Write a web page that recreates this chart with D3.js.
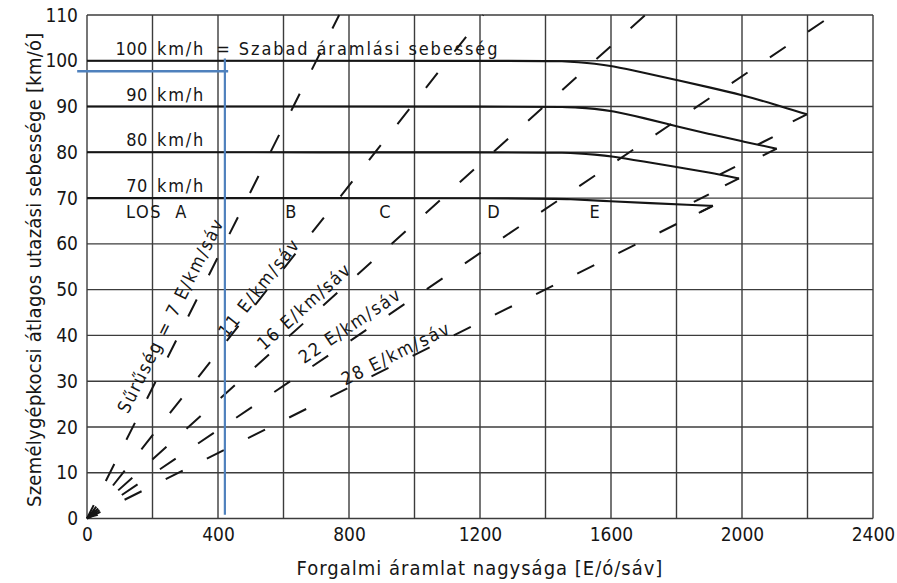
<!DOCTYPE html>
<html><head><meta charset="utf-8">
<script src="https://cdn.jsdelivr.net/npm/d3@7"></script>
<style>
html,body{margin:0;padding:0;background:#fff;}
svg{display:block;}
text{font-family:"DejaVu Sans Condensed","DejaVu Sans",sans-serif;fill:#161616;}
</style></head><body>
<svg id="chart" width="897" height="583"></svg>
<script>
// ---------------- data ----------------
const xTickValues = [0, 400, 800, 1200, 1600, 2000, 2400];
const yTickValues = [0, 10, 20, 30, 40, 50, 60, 70, 80, 90, 100, 110];
const xGridValues = [0, 200, 400, 600, 800, 1000, 1200, 1400, 1600, 1800, 2000, 2200, 2400];

const freeFlowSpeeds = [100, 90, 80, 70];
const curve100 = [[0, 100], [1400, 100], [1450, 99.9], [1500, 99.7], [1550, 99.4], [1600, 98.9], [1700, 97.4], [1800, 95.8], [1900, 94.2], [2000, 92.5], [2100, 90.5], [2198, 88.3]];
const curve90  = [[0, 90], [1400, 90], [1450, 89.9], [1500, 89.8], [1550, 89.5], [1600, 89.1], [1700, 87.5], [1800, 85.7], [1900, 84.0], [2000, 82.4], [2106, 80.8]];
const curve80  = [[0, 80], [1400, 80], [1450, 79.9], [1500, 79.75], [1550, 79.5], [1600, 79.2], [1700, 78.0], [1800, 76.8], [1900, 75.6], [1991, 74.3]];
const curve70  = [[0, 70], [1400, 70], [1466, 69.8], [1600, 69.3], [1720, 68.9], [1840, 68.5], [1911, 68.3]];
const upperHook = [false, true, true, true];

const densityLabelValues = ["7", "11", "16", "22", "28"];
const densityLineEndFlow  = [770, 1210, 1705, 2277, 1911];
const densityLineEndSpeed = [110, 110, 110, 110, 68.3];
const densityLabelFlow  = [255, 525, 663, 803, 943];
const densityLabelSpeed = [44.4, 50.5, 46.4, 42.2, 36.1];

const losLetters = ["A", "B", "C", "D", "E"];
const losFlow = [308, 622, 910, 1241, 1550];
const losSpeed = 65.6;

const blueHSpeed = 97.7, blueHFrom = -30, blueHTo = 431;
const blueVFlow = 421, blueVFrom = 0.8, blueVTo = 100.5;

const xTitle = "Forgalmi áramlat nagysága [E/ó/sáv]";
const yTitle = "Személygépkocsi átlagos utazási sebessége [km/ó]";

// ---------------- layout ----------------
const svg = d3.select("#chart");
const x = d3.scaleLinear().domain([0, 2400]).range([87, 873]);
const y = d3.scaleLinear().domain([0, 110]).range([518.5, 15]);
const ink = "#151515";
const fontFam = '"DejaVu Sans Condensed","DejaVu Sans",sans-serif';

// grid
const grid = svg.append("g");
grid.selectAll("line.v").data(xGridValues).join("line")
  .attr("x1", d => x(d)).attr("x2", d => x(d)).attr("y1", y(0)).attr("y2", y(110))
  .attr("stroke", "#3c3c3c").attr("stroke-width", 1.4);
grid.selectAll("line.h").data(yTickValues).join("line")
  .attr("y1", d => y(d)).attr("y2", d => y(d)).attr("x1", x(0)).attr("x2", x(2400))
  .attr("stroke", "#3c3c3c").attr("stroke-width", 1.4);

// axes labels (ticks)
const yAxis = d3.axisLeft(y).tickValues(yTickValues).tickSize(0).tickPadding(9).tickFormat(d3.format("d"));
const gy = svg.append("g").attr("transform", `translate(${x(0)},0)`).call(yAxis);
gy.select(".domain").remove();
gy.selectAll("text").attr("font-size", 19).attr("fill", ink).style("font-family", fontFam);

const xAxis = d3.axisBottom(x).tickValues(xTickValues).tickSize(0).tickPadding(9).tickFormat(d3.format("d"));
const gx = svg.append("g").attr("transform", `translate(0,${y(0)})`).call(xAxis);
gx.select(".domain").remove();
gx.selectAll("text").attr("font-size", 19).attr("fill", ink).style("font-family", fontFam);

// density lines
const lineGen = d3.line().x(d => x(d[0])).y(d => y(d[1]));
densityLineEndFlow.forEach((f, i) => {
  svg.append("path")
    .attr("d", lineGen([[0, 0], [f, densityLineEndSpeed[i]]]))
    .attr("fill", "none").attr("stroke", ink).attr("stroke-width", 2)
    .attr("stroke-dasharray", "19,27").attr("stroke-dashoffset", 4);
});
// arrow head at origin
{
  const ang = Math.atan2(20, 32);
  const L = 11, w = 3.6;
  const ox = x(0), oy = y(0);
  const bx = ox + L * Math.cos(ang), by = oy - L * Math.sin(ang);
  const px = Math.sin(ang) * w, py = Math.cos(ang) * w;
  svg.append("path")
    .attr("d", `M${ox},${oy}L${bx + px},${by + py}L${bx - px},${by - py}Z`)
    .attr("fill", ink);
}

// speed-flow curves
const curveGen = d3.line().x(d => x(d[0])).y(d => y(d[1])).curve(d3.curveBasis);
[curve100, curve90, curve80, curve70].forEach((c, i) => {
  svg.append("path").attr("d", curveGen(c))
    .attr("fill", "none").attr("stroke", ink).attr("stroke-width", 2.1);
  const e = c[c.length - 1];
  const ex = x(e[0]), ey = y(e[1]);
  svg.append("line").attr("x1", ex).attr("y1", ey).attr("x2", ex - 14).attr("y2", ey + 7)
    .attr("stroke", ink).attr("stroke-width", 2.1);
  if (upperHook[i]) {
    svg.append("line").attr("x1", ex - 19).attr("y1", ey - 4).attr("x2", ex - 4).attr("y2", ey - 11.5)
      .attr("stroke", ink).attr("stroke-width", 2.1);
  }
});

// speed labels
const labelFont = 18;
freeFlowSpeeds.forEach((s, i) => {
  svg.append("text").attr("x", x(186)).attr("y", y(s + 1.3))
    .attr("text-anchor", "end").attr("font-size", labelFont).attr("letter-spacing", 0.5)
    .text(s);
  svg.append("text").attr("x", x(214)).attr("y", y(s + 1.3))
    .attr("font-size", labelFont).attr("letter-spacing", 1.8)
    .text("km/h");
});
svg.append("text").attr("x", x(395)).attr("y", y(freeFlowSpeeds[0] + 1.3))
  .attr("font-size", labelFont).attr("letter-spacing", 1.9)
  .text("= Szabad áramlási sebesség");

// LOS labels
losLetters.forEach((l, i) => {
  svg.append("text").attr("x", x(losFlow[i])).attr("y", y(losSpeed))
    .attr("text-anchor", i === 0 ? "end" : "middle")
    .attr("font-size", labelFont).attr("letter-spacing", i === 0 ? 1.5 : 0)
    .attr("xml:space", "preserve")
    .text(i === 0 ? "LOS  " + l : l);
});

// density labels
densityLabelValues.forEach((v, i) => {
  const ang = Math.atan2(y(0) - y(densityLineEndSpeed[i]), x(densityLineEndFlow[i]) - x(0)) * 180 / Math.PI;
  const cx = x(densityLabelFlow[i]), cy = y(densityLabelSpeed[i]);
  svg.append("text")
    .attr("transform", `translate(${cx},${cy}) rotate(${-ang})`)
    .attr("text-anchor", "middle").attr("dy", "0.36em")
    .attr("font-size", labelFont).attr("letter-spacing", 1.8)
    .text((i === 0 ? "Sűrűség = " : "") + v + " E/km/sáv");
});

// axis titles
svg.append("text").attr("x", (x(0) + x(2400)) / 2).attr("y", 575)
  .attr("text-anchor", "middle").attr("font-size", 20).attr("letter-spacing", 1)
  .text(xTitle);
svg.append("text")
  .attr("transform", `translate(41,${(y(0) + y(110)) / 2 + 3}) rotate(-90)`)
  .attr("text-anchor", "middle").attr("font-size", 20).attr("letter-spacing", 0.25)
  .text(yTitle);

// blue marker lines
svg.append("line").attr("x1", x(blueHFrom)).attr("x2", x(blueHTo))
  .attr("y1", y(blueHSpeed)).attr("y2", y(blueHSpeed))
  .attr("stroke", "#4f81bd").attr("stroke-width", 2.6);
svg.append("line").attr("x1", x(blueVFlow)).attr("x2", x(blueVFlow))
  .attr("y1", y(blueVFrom)).attr("y2", y(blueVTo))
  .attr("stroke", "#4f81bd").attr("stroke-width", 2.2);
</script>
</body></html>
